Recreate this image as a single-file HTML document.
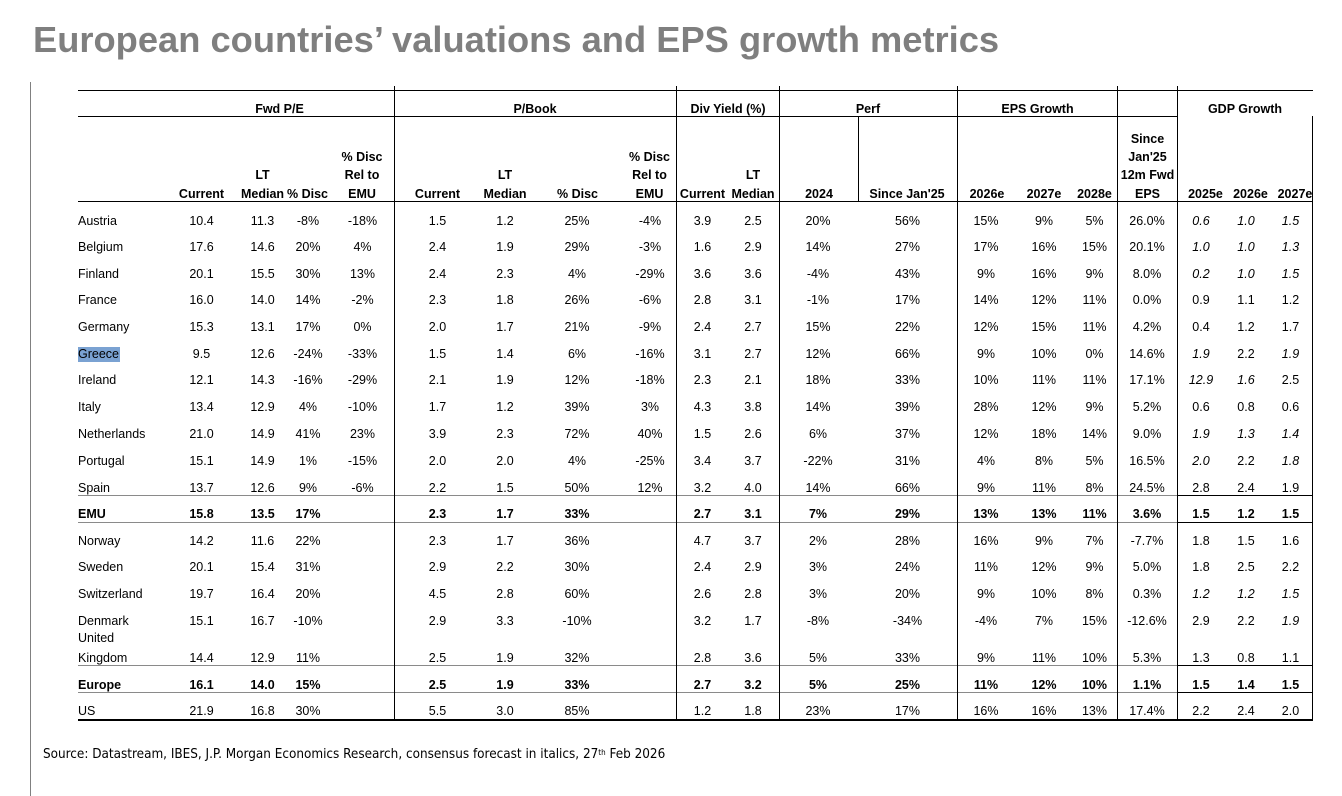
<!DOCTYPE html>
<html>
<head>
<meta charset="utf-8">
<style>
  html,body{margin:0;padding:0;background:#fff;}
  #w{position:relative;width:1342px;height:796px;overflow:hidden;background:#fff;font-family:"Liberation Sans",Arial,sans-serif;color:#000;}
  .title{position:absolute;left:33px;top:20px;line-height:40px;font-size:36.3px;font-weight:bold;color:#7f7f7f;white-space:nowrap;}
  .hl{position:absolute;height:1px;background:#000;}
  .vl{position:absolute;width:1px;background:#000;}
  .g{background:#8a8a8a;}
  .r{position:absolute;left:0;width:1342px;height:16px;font-size:12.5px;line-height:16px;white-space:nowrap;}
  .r span{position:absolute;top:0;width:80px;text-align:center;}
  .r span.n{left:78px;width:140px;text-align:left;}
  .b{font-weight:bold;}
  .it{font-style:italic;}
  .a{left:161.5px}.bb{left:222.5px}.c{left:268px}.d{left:322.5px}
  .e{left:397.5px}.f{left:465px}.gg{left:537px}.h{left:610px}
  .i{left:662.5px}.j{left:713px}
  .k{left:778px}.l{left:867.5px}
  .m{left:946px}.o{left:1004px}.p{left:1054.5px}
  .q{left:1107px}
  .s{left:1161px}.u{left:1206px}.v{left:1250.5px}
  .src{position:absolute;left:43px;top:746px;line-height:18px;font-size:13.4px;font-family:"DejaVu Sans Condensed","DejaVu Sans",sans-serif;font-stretch:condensed;white-space:nowrap;color:#000;}
  .src sup{font-size:8px;vertical-align:top;position:relative;top:-2px;}
</style>
</head>
<body>
<div id="w">
  <div class="title">European countries’ valuations and EPS growth metrics</div>

  <div class="vl" style="left:30px;top:82px;height:714px;background:#808080;"></div>

  <div class="hl" style="left:78px;top:90px;width:1235px;"></div>
  <div class="hl" style="left:78px;top:116px;width:1100px;"></div>
  <div class="hl" style="left:78px;top:201px;width:1235px;"></div>
  <div class="hl g" style="left:78px;top:495px;width:1099px;"></div>
  <div class="hl" style="left:1177px;top:495px;width:136px;"></div>
  <div class="hl g" style="left:78px;top:522px;width:1099px;"></div>
  <div class="hl" style="left:1177px;top:522px;width:136px;"></div>
  <div class="hl g" style="left:78px;top:665px;width:1099px;"></div>
  <div class="hl" style="left:1177px;top:665px;width:136px;"></div>
  <div class="hl g" style="left:78px;top:692px;width:1099px;"></div>
  <div class="hl" style="left:1177px;top:692px;width:136px;"></div>
  <div class="hl" style="left:78px;top:719px;width:1235px;height:1.5px;"></div>

  <div class="vl" style="left:394px;top:86px;height:634px;"></div>
  <div class="vl" style="left:676px;top:86px;height:634px;"></div>
  <div class="vl" style="left:779px;top:86px;height:634px;"></div>
  <div class="vl" style="left:957px;top:86px;height:634px;"></div>
  <div class="vl" style="left:1117px;top:86px;height:634px;"></div>
  <div class="vl" style="left:1177px;top:86px;height:634px;"></div>
  <div class="vl" style="left:1312px;top:116px;height:604px;"></div>
  <div class="vl" style="left:858px;top:116px;height:85px;"></div>

  <div class="r b" style="top:101px;">
    <span style="left:239.5px">Fwd P/E</span>
    <span style="left:495px">P/Book</span>
    <span style="left:688px">Div Yield (%)</span>
    <span style="left:828px">Perf</span>
    <span style="left:997.5px">EPS Growth</span>
    <span style="left:1205px">GDP Growth</span>
  </div>
  <div class="r b" style="top:131px;">
    <span class="q" style="left:1107.5px">Since</span>
  </div>
  <div class="r b" style="top:149px;">
    <span style="left:322px">% Disc</span>
    <span style="left:609.5px">% Disc</span>
    <span style="left:1107.5px">Jan'25</span>
  </div>
  <div class="r b" style="top:167px;">
    <span style="left:222.5px">LT</span>
    <span style="left:322px">Rel to</span>
    <span style="left:465px">LT</span>
    <span style="left:609.5px">Rel to</span>
    <span style="left:713px">LT</span>
    <span style="left:1107.5px">12m Fwd</span>
  </div>
  <div class="r b" style="top:186px;">
    <span style="left:161.5px">Current</span>
    <span style="left:222.5px">Median</span>
    <span style="left:267.5px">% Disc</span>
    <span style="left:322px">EMU</span>
    <span style="left:397.5px">Current</span>
    <span style="left:465px">Median</span>
    <span style="left:537.5px">% Disc</span>
    <span style="left:609.5px">EMU</span>
    <span style="left:662.5px">Current</span>
    <span style="left:713px">Median</span>
    <span style="left:779px">2024</span>
    <span style="left:867px">Since Jan'25</span>
    <span style="left:947px">2026e</span>
    <span style="left:1004px">2027e</span>
    <span style="left:1054.5px">2028e</span>
    <span style="left:1107.5px">EPS</span>
    <span style="left:1165.5px">2025e</span>
    <span style="left:1210.5px">2026e</span>
    <span style="left:1255px">2027e</span>
  </div>

  <div style="position:absolute;left:77.5px;top:347px;width:42.5px;height:15px;background:#7aa2d2;"></div>

  <div class="r" style="top:213px;"><span class="n">Austria</span><span class="a">10.4</span><span class="bb">11.3</span><span class="c">-8%</span><span class="d">-18%</span><span class="e">1.5</span><span class="f">1.2</span><span class="gg">25%</span><span class="h">-4%</span><span class="i">3.9</span><span class="j">2.5</span><span class="k">20%</span><span class="l">56%</span><span class="m">15%</span><span class="o">9%</span><span class="p">5%</span><span class="q">26.0%</span><span class="s it">0.6</span><span class="u it">1.0</span><span class="v it">1.5</span></div>

  <div class="r" style="top:239px;"><span class="n">Belgium</span><span class="a">17.6</span><span class="bb">14.6</span><span class="c">20%</span><span class="d">4%</span><span class="e">2.4</span><span class="f">1.9</span><span class="gg">29%</span><span class="h">-3%</span><span class="i">1.6</span><span class="j">2.9</span><span class="k">14%</span><span class="l">27%</span><span class="m">17%</span><span class="o">16%</span><span class="p">15%</span><span class="q">20.1%</span><span class="s it">1.0</span><span class="u it">1.0</span><span class="v it">1.3</span></div>

  <div class="r" style="top:266px;"><span class="n">Finland</span><span class="a">20.1</span><span class="bb">15.5</span><span class="c">30%</span><span class="d">13%</span><span class="e">2.4</span><span class="f">2.3</span><span class="gg">4%</span><span class="h">-29%</span><span class="i">3.6</span><span class="j">3.6</span><span class="k">-4%</span><span class="l">43%</span><span class="m">9%</span><span class="o">16%</span><span class="p">9%</span><span class="q">8.0%</span><span class="s it">0.2</span><span class="u it">1.0</span><span class="v it">1.5</span></div>

  <div class="r" style="top:292px;"><span class="n">France</span><span class="a">16.0</span><span class="bb">14.0</span><span class="c">14%</span><span class="d">-2%</span><span class="e">2.3</span><span class="f">1.8</span><span class="gg">26%</span><span class="h">-6%</span><span class="i">2.8</span><span class="j">3.1</span><span class="k">-1%</span><span class="l">17%</span><span class="m">14%</span><span class="o">12%</span><span class="p">11%</span><span class="q">0.0%</span><span class="s">0.9</span><span class="u">1.1</span><span class="v">1.2</span></div>

  <div class="r" style="top:319px;"><span class="n">Germany</span><span class="a">15.3</span><span class="bb">13.1</span><span class="c">17%</span><span class="d">0%</span><span class="e">2.0</span><span class="f">1.7</span><span class="gg">21%</span><span class="h">-9%</span><span class="i">2.4</span><span class="j">2.7</span><span class="k">15%</span><span class="l">22%</span><span class="m">12%</span><span class="o">15%</span><span class="p">11%</span><span class="q">4.2%</span><span class="s">0.4</span><span class="u">1.2</span><span class="v">1.7</span></div>

  <div class="r" style="top:346px;"><span class="n">Greece</span><span class="a">9.5</span><span class="bb">12.6</span><span class="c">-24%</span><span class="d">-33%</span><span class="e">1.5</span><span class="f">1.4</span><span class="gg">6%</span><span class="h">-16%</span><span class="i">3.1</span><span class="j">2.7</span><span class="k">12%</span><span class="l">66%</span><span class="m">9%</span><span class="o">10%</span><span class="p">0%</span><span class="q">14.6%</span><span class="s it">1.9</span><span class="u">2.2</span><span class="v it">1.9</span></div>

  <div class="r" style="top:372px;"><span class="n">Ireland</span><span class="a">12.1</span><span class="bb">14.3</span><span class="c">-16%</span><span class="d">-29%</span><span class="e">2.1</span><span class="f">1.9</span><span class="gg">12%</span><span class="h">-18%</span><span class="i">2.3</span><span class="j">2.1</span><span class="k">18%</span><span class="l">33%</span><span class="m">10%</span><span class="o">11%</span><span class="p">11%</span><span class="q">17.1%</span><span class="s it">12.9</span><span class="u it">1.6</span><span class="v">2.5</span></div>

  <div class="r" style="top:399px;"><span class="n">Italy</span><span class="a">13.4</span><span class="bb">12.9</span><span class="c">4%</span><span class="d">-10%</span><span class="e">1.7</span><span class="f">1.2</span><span class="gg">39%</span><span class="h">3%</span><span class="i">4.3</span><span class="j">3.8</span><span class="k">14%</span><span class="l">39%</span><span class="m">28%</span><span class="o">12%</span><span class="p">9%</span><span class="q">5.2%</span><span class="s">0.6</span><span class="u">0.8</span><span class="v">0.6</span></div>

  <div class="r" style="top:426px;"><span class="n">Netherlands</span><span class="a">21.0</span><span class="bb">14.9</span><span class="c">41%</span><span class="d">23%</span><span class="e">3.9</span><span class="f">2.3</span><span class="gg">72%</span><span class="h">40%</span><span class="i">1.5</span><span class="j">2.6</span><span class="k">6%</span><span class="l">37%</span><span class="m">12%</span><span class="o">18%</span><span class="p">14%</span><span class="q">9.0%</span><span class="s it">1.9</span><span class="u it">1.3</span><span class="v it">1.4</span></div>

  <div class="r" style="top:453px;"><span class="n">Portugal</span><span class="a">15.1</span><span class="bb">14.9</span><span class="c">1%</span><span class="d">-15%</span><span class="e">2.0</span><span class="f">2.0</span><span class="gg">4%</span><span class="h">-25%</span><span class="i">3.4</span><span class="j">3.7</span><span class="k">-22%</span><span class="l">31%</span><span class="m">4%</span><span class="o">8%</span><span class="p">5%</span><span class="q">16.5%</span><span class="s it">2.0</span><span class="u">2.2</span><span class="v it">1.8</span></div>

  <div class="r" style="top:480px;"><span class="n">Spain</span><span class="a">13.7</span><span class="bb">12.6</span><span class="c">9%</span><span class="d">-6%</span><span class="e">2.2</span><span class="f">1.5</span><span class="gg">50%</span><span class="h">12%</span><span class="i">3.2</span><span class="j">4.0</span><span class="k">14%</span><span class="l">66%</span><span class="m">9%</span><span class="o">11%</span><span class="p">8%</span><span class="q">24.5%</span><span class="s">2.8</span><span class="u">2.4</span><span class="v">1.9</span></div>

  <div class="r b" style="top:506px;"><span class="n">EMU</span><span class="a">15.8</span><span class="bb">13.5</span><span class="c">17%</span><span class="e">2.3</span><span class="f">1.7</span><span class="gg">33%</span><span class="i">2.7</span><span class="j">3.1</span><span class="k">7%</span><span class="l">29%</span><span class="m">13%</span><span class="o">13%</span><span class="p">11%</span><span class="q">3.6%</span><span class="s">1.5</span><span class="u">1.2</span><span class="v">1.5</span></div>

  <div class="r" style="top:533px;"><span class="n">Norway</span><span class="a">14.2</span><span class="bb">11.6</span><span class="c">22%</span><span class="e">2.3</span><span class="f">1.7</span><span class="gg">36%</span><span class="i">4.7</span><span class="j">3.7</span><span class="k">2%</span><span class="l">28%</span><span class="m">16%</span><span class="o">9%</span><span class="p">7%</span><span class="q">-7.7%</span><span class="s">1.8</span><span class="u">1.5</span><span class="v">1.6</span></div>

  <div class="r" style="top:559px;"><span class="n">Sweden</span><span class="a">20.1</span><span class="bb">15.4</span><span class="c">31%</span><span class="e">2.9</span><span class="f">2.2</span><span class="gg">30%</span><span class="i">2.4</span><span class="j">2.9</span><span class="k">3%</span><span class="l">24%</span><span class="m">11%</span><span class="o">12%</span><span class="p">9%</span><span class="q">5.0%</span><span class="s">1.8</span><span class="u">2.5</span><span class="v">2.2</span></div>

  <div class="r" style="top:586px;"><span class="n">Switzerland</span><span class="a">19.7</span><span class="bb">16.4</span><span class="c">20%</span><span class="e">4.5</span><span class="f">2.8</span><span class="gg">60%</span><span class="i">2.6</span><span class="j">2.8</span><span class="k">3%</span><span class="l">20%</span><span class="m">9%</span><span class="o">10%</span><span class="p">8%</span><span class="q">0.3%</span><span class="s it">1.2</span><span class="u it">1.2</span><span class="v it">1.5</span></div>

  <div class="r" style="top:613px;"><span class="n">Denmark</span><span class="a">15.1</span><span class="bb">16.7</span><span class="c">-10%</span><span class="e">2.9</span><span class="f">3.3</span><span class="gg">-10%</span><span class="i">3.2</span><span class="j">1.7</span><span class="k">-8%</span><span class="l">-34%</span><span class="m">-4%</span><span class="o">7%</span><span class="p">15%</span><span class="q">-12.6%</span><span class="s">2.9</span><span class="u">2.2</span><span class="v it">1.9</span></div>

  <div class="r" style="top:630px;"><span class="n">United</span></div>

  <div class="r" style="top:650px;"><span class="n">Kingdom</span><span class="a">14.4</span><span class="bb">12.9</span><span class="c">11%</span><span class="e">2.5</span><span class="f">1.9</span><span class="gg">32%</span><span class="i">2.8</span><span class="j">3.6</span><span class="k">5%</span><span class="l">33%</span><span class="m">9%</span><span class="o">11%</span><span class="p">10%</span><span class="q">5.3%</span><span class="s">1.3</span><span class="u">0.8</span><span class="v">1.1</span></div>

  <div class="r b" style="top:677px;"><span class="n">Europe</span><span class="a">16.1</span><span class="bb">14.0</span><span class="c">15%</span><span class="e">2.5</span><span class="f">1.9</span><span class="gg">33%</span><span class="i">2.7</span><span class="j">3.2</span><span class="k">5%</span><span class="l">25%</span><span class="m">11%</span><span class="o">12%</span><span class="p">10%</span><span class="q">1.1%</span><span class="s">1.5</span><span class="u">1.4</span><span class="v">1.5</span></div>

  <div class="r" style="top:703px;"><span class="n">US</span><span class="a">21.9</span><span class="bb">16.8</span><span class="c">30%</span><span class="e">5.5</span><span class="f">3.0</span><span class="gg">85%</span><span class="i">1.2</span><span class="j">1.8</span><span class="k">23%</span><span class="l">17%</span><span class="m">16%</span><span class="o">16%</span><span class="p">13%</span><span class="q">17.4%</span><span class="s">2.2</span><span class="u">2.4</span><span class="v">2.0</span></div>

  <div class="src">Source: Datastream, IBES, J.P. Morgan Economics Research, consensus forecast in italics, 27<sup>th</sup> Feb 2026</div>
</div>
</body>
</html>
